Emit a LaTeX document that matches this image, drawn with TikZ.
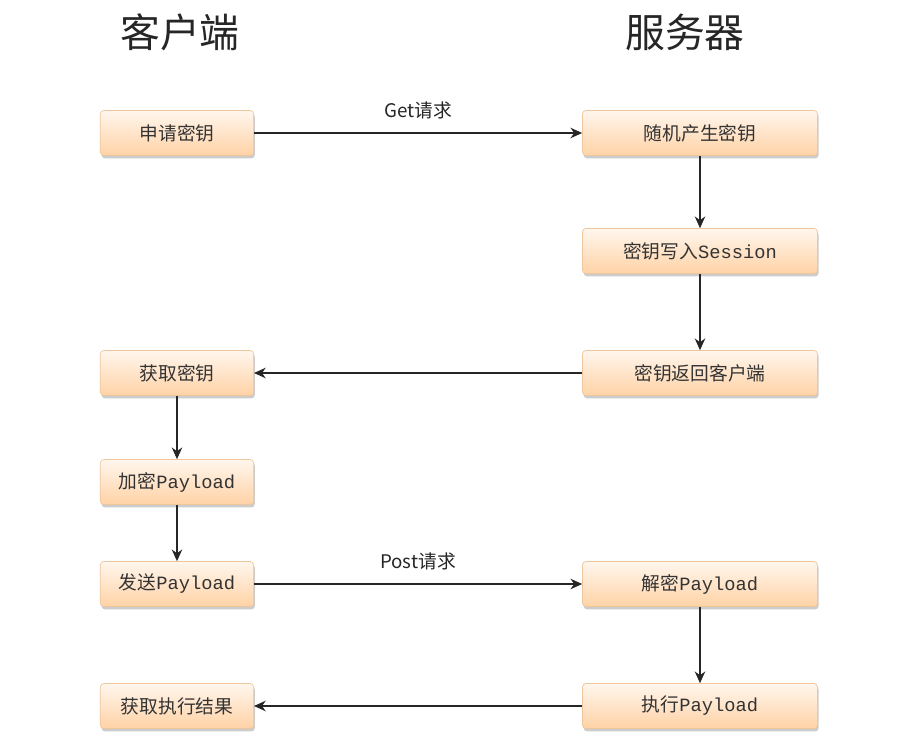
\documentclass[tikz,border=0pt]{standalone}
\usepackage{fontspec}
\newfontfamily\cjk{Noto Sans CJK SC}
\setmonofont{Liberation Mono}
\usetikzlibrary{arrows.meta, positioning, shadows}

\begin{document}
\begin{tikzpicture}[
    x=0.03cm, y=-0.03cm,
    stepbox/.style={rectangle, rounded corners=3pt, draw=orange!45!brown!45, line width=0.6pt,
      top color=orange!7, bottom color=orange!35,
      drop shadow={shadow xshift=1pt, shadow yshift=-2.5pt, opacity=0.4},
      minimum height=1.35cm, font=\fontsize{16}{18}\selectfont\cjk, text=black!80},
    leftbox/.style={stepbox, minimum width=4.6cm},
    rightbox/.style={stepbox, minimum width=7.05cm},
    title/.style={font=\fontsize{34}{38}\selectfont\cjk, text=black!85},
    msg/.style={font=\fontsize{16}{18}\selectfont\cjk, text=black!85},
    arrow/.style={-{Stealth[length=10pt,width=9pt]}, line width=0.9pt, black!85},
  ]
  \useasboundingbox (0,0) rectangle (923,741);

  % column headings
  \node[title] (client) at (180,32) {客户端};
  \node[title] (server) at (685,32) {服务器};

  % client side
  \node[leftbox] (apply)   at (177,133) {申请密钥};
  \node[leftbox] (getkey)  at (177,373) {获取密钥};
  \node[leftbox] (encrypt) at (177,482) {加密{\ttfamily Payload}};
  \node[leftbox] (send)    at (177,584) {发送{\ttfamily Payload}};
  \node[leftbox] (result)  at (177,706) {获取执行结果};

  % server side
  \node[rightbox] (gen)     at (700,133) {随机产生密钥};
  \node[rightbox] (store)   at (700,251) {密钥写入{\ttfamily Session}};
  \node[rightbox] (return)  at (700,373) {密钥返回客户端};
  \node[rightbox] (decrypt) at (700,584) {解密{\ttfamily Payload}};
  \node[rightbox] (exec)    at (700,706) {执行{\ttfamily Payload}};

  % requests
  \draw[arrow] (apply) -- (gen)
      node[midway, above=8pt, msg] {Get请求};
  \draw[arrow] (send) -- (decrypt)
      node[midway, above=8pt, msg] {Post请求};

  % server steps
  \draw[arrow] (gen) -- (store);
  \draw[arrow] (store) -- (return);
  \draw[arrow] (decrypt) -- (exec);

  % replies
  \draw[arrow] (return) -- (getkey);
  \draw[arrow] (exec) -- (result);

  % client steps
  \draw[arrow] (getkey) -- (encrypt);
  \draw[arrow] (encrypt) -- (send);

\end{tikzpicture}
\end{document}
